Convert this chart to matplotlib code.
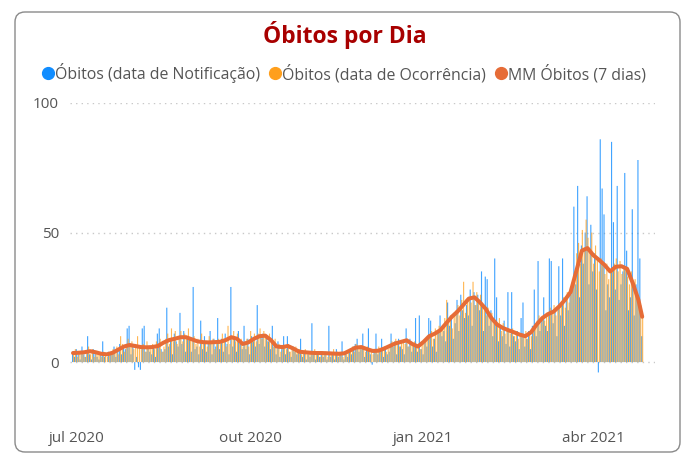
import matplotlib
matplotlib.use('Agg')
import matplotlib.pyplot as plt
import matplotlib.dates as mdates
from matplotlib.patches import FancyBboxPatch
from matplotlib.lines import Line2D
import pandas as pd

plt.rcParams['font.family'] = ['Open Sans', 'DejaVu Sans']

title = 'Óbitos por Dia'
series_labels = ['Óbitos (data de Notificação)', 'Óbitos (data de Ocorrência)', 'MM Óbitos (7 dias)']
start_date = '2020-06-29'

# daily deaths by notification date (blue)
notif = [
    4, 2, 5, 3, 1, 6, 3,
    2, 10, 3, 1, 5, 4, 2,
    1, 3, 8, 2, 0, 4, 3,
    3, 6, 2, 5, 7, 3, 6,
    5, 13, 14, 3, 7, -3, 2,
    -2, -3, 13, 14, 4, 6, 4,
    3, 6, 2, 11, 13, 5, 4,
    5, 21, 6, 9, 3, 11, 8,
    6, 19, 7, 12, 4, 10, 9,
    4, 29, 5, 6, 3, 16, 5,
    10, 4, 8, 12, 3, 9, 6,
    17, 5, 9, 4, 11, 7, 3,
    29, 6, 10, 4, 12, 7, 5,
    14, 5, 9, 3, 10, 8, 6,
    22, 7, 10, 11, 6, 9, 8,
    5, 14, 6, 3, 8, 2, 5,
    10, 3, 10, 4, 2, 6, 4,
    3, 5, 9, 2, 4, 1, 3,
    2, 15, 3, 1, 4, 2, 3,
    2, 4, 1, 14, 2, 3, 1,
    5, 2, 3, 8, 1, 3, 2,
    4, 3, 6, 7, 9, 4, 5,
    11, 2, 5, 13, 3, -1, 4,
    11, 3, 4, 9, 2, 5, 3,
    4, 11, 6, 8, 3, 9, 6,
    5, 3, 13, 6, 9, 4, 7,
    17, 4, 18, 5, 3, 8, 6,
    17, 16, 6, 9, 4, 12, 18,
    10, 12, 8, 23, 14, 18, 9,
    15, 24, 12, 26, 20, 17, 22,
    18, 28, 14, 27, 22, 26, 20,
    35, 12, 33, 32, 14, 20, 10,
    40, 25, 8, 14, 10, 16, 7,
    27, 6, 27, 10, 8, 12, 5,
    17, 23, 6, 9, 12, 5, 14,
    28, 10, 39, 12, 16, 25, 14,
    12, 40, 39, 15, 20, 10, 37,
    18, 40, 14, 25, 20, 27, 30,
    60, 30, 68, 25, 45, 38, 50,
    64, 30, 53, 35, 42, 28, -4,
    86, 67, 57, 20, 30, 25, 85,
    54, 28, 68, 24, 30, 35, 73,
    43, 20, 25, 59, 18, 30, 78,
    40, 10,
]

# daily deaths by occurrence date (orange)
ocorr = [
    3, 5, 2, 4, 3, 4, 2,
    4, 6, 3, 5, 2, 4, 3,
    3, 2, 4, 3, 2, 3, 4,
    5, 4, 6, 3, 10, 7, 4,
    7, 9, 6, 8, 5, 7, 10,
    6, 5, 7, 4, 8, 6, 5,
    7, 5, 8, 6, 9, 4, 6,
    9, 11, 7, 13, 8, 12, 7,
    10, 12, 8, 11, 9, 13, 9,
    8, 10, 7, 9, 6, 11, 8,
    8, 6, 10, 7, 9, 5, 8,
    9, 7, 11, 8, 6, 14, 7,
    10, 12, 8, 11, 7, 9, 6,
    7, 9, 6, 12, 8, 11, 8,
    11, 13, 9, 12, 10, 8, 11,
    8, 6, 9, 5, 7, 4, 6,
    6, 5, 7, 4, 6, 5, 6,
    4, 5, 3, 4, 5, 3, 4,
    4, 3, 5, 3, 4, 2, 4,
    3, 4, 2, 4, 3, 5, 3,
    4, 3, 3, 2, 4, 3, 4,
    5, 6, 4, 7, 5, 6, 5,
    5, 4, 6, 4, 5, 3, 5,
    5, 6, 4, 5, 6, 4, 5,
    7, 8, 6, 9, 7, 6, 8,
    8, 7, 9, 6, 8, 7, 8,
    6, 7, 5, 8, 7, 9, 10,
    10, 12, 9, 13, 11, 14, 12,
    14, 17, 24, 15, 18, 13, 19,
    20, 22, 18, 24, 31, 19, 23,
    25, 23, 31, 22, 27, 24, 26,
    22, 20, 18, 21, 17, 19, 15,
    16, 14, 17, 12, 15, 11, 13,
    12, 11, 13, 10, 12, 9, 11,
    11, 10, 12, 9, 11, 10, 12,
    14, 16, 18, 15, 17, 16, 19,
    18, 21, 19, 22, 18, 20, 21,
    22, 25, 21, 27, 23, 26, 28,
    34, 42, 46, 38, 51, 44, 55,
    48, 43, 50, 38, 45, 40, 35,
    40, 37, 34, 38, 32, 36, 35,
    38, 40, 35, 39, 34, 37, 36,
    33, 30, 35, 28, 32, 27, 25,
    22, 18,
]

# 7-day moving average, read every 3 days, plus the final day
ma_vals = [
    3.5, 3.6, 3.8, 4.2, 3.8, 3.2, 3.0, 3.6, 4.8, 6.0,
    6.6, 6.2, 5.8, 5.7, 5.8, 6.2, 7.5, 8.5, 9.0, 9.6,
    9.6, 8.8, 8.0, 7.7, 7.6, 7.7, 7.8, 8.5, 9.6, 9.0,
    7.0, 7.6, 9.0, 10.0, 10.2, 8.5, 6.0, 5.8, 6.2, 5.2,
    4.0, 3.8, 3.6, 3.5, 3.5, 3.4, 3.3, 3.2, 3.4, 4.5,
    5.6, 5.8, 5.0, 4.3, 4.4, 5.2, 6.2, 7.2, 7.8, 8.4,
    7.0, 6.0, 7.8, 10.0, 11.0, 12.4, 15.0, 17.5, 19.5, 22.0,
    24.5, 25.0, 23.0, 20.5, 17.0, 14.5, 13.2, 12.3, 11.5, 10.6,
    10.0, 11.5, 14.5, 17.0, 18.5, 19.5, 21.5, 24.0, 27.0, 35.0,
    43.0, 44.0, 41.3, 39.5, 37.5, 35.0, 36.8, 37.0, 36.0, 30.5,
    24.0, 17.5,
]
ma_dates = list(pd.date_range(start_date, '2021-04-25', freq='3D')) + [pd.Timestamp('2021-04-27')]

n = min(len(notif), len(ocorr))
dates = pd.date_range(start_date, periods=n, freq='D')

c_blue = '#118DFF'
c_orange = '#FF9F1C'
c_line = '#E66C37'

fig = plt.figure(figsize=(6.84, 4.54), dpi=100)
fig.patch.set_facecolor('white')

card = FancyBboxPatch((15, 2), 665, 440, boxstyle='round,pad=0,rounding_size=10',
                      transform=None, facecolor='none', edgecolor='#8a8a8a', linewidth=1.0,
                      zorder=-5)
fig.patches.append(card)

ax = fig.add_axes([70/684, 1-388/454, (655-70)/684, (388-103)/454])
ax.set_facecolor('none')

off = pd.Timedelta(hours=6)
ax.bar(dates[:n] - off, notif[:n], width=0.6, color=c_blue, alpha=0.8, linewidth=0,
       zorder=2, snap=False)
ax.bar(dates[:n] + off, ocorr[:n], width=0.6, color=c_orange, alpha=0.75, linewidth=0,
       zorder=3, snap=False)
ax.plot(ma_dates, ma_vals[:len(ma_dates)], color=c_line, lw=2.9, solid_capstyle='round',
        solid_joinstyle='round', zorder=4)

x0 = pd.Timestamp(start_date)
ax.set_xlim(x0 - pd.Timedelta(days=1.6), x0 + pd.Timedelta(days=308.8))
ax.set_ylim(-10, 100)
ax.set_yticks([0, 50, 100])
ax.yaxis.grid(True, color='#c8c8c8', linestyle=(0, (1, 3)), linewidth=1.0)
ax.set_axisbelow(True)
for s in ax.spines.values():
    s.set_visible(False)

ax.xaxis.set_major_locator(mdates.MonthLocator(bymonth=[1, 4, 7, 10]))
months = {1: 'jan', 4: 'abr', 7: 'jul', 10: 'out'}
ax.xaxis.set_major_formatter(matplotlib.ticker.FuncFormatter(
    lambda v, p: f"{months[mdates.num2date(v).month]} {mdates.num2date(v).year}"))
ax.tick_params(axis='x', length=0, pad=31, labelsize=11, labelcolor='#555555')
ax.tick_params(axis='y', length=0, pad=8, labelsize=11, labelcolor='#555555')

fig.text(0.504, 1-35/454, title, ha='center', va='center', fontsize=16.5,
         fontweight='bold', color='#A80000')

handles = [Line2D([], [], marker='o', linestyle='none', markersize=8.5, color=c) for c in (c_blue, c_orange, c_line)]
fig.legend(handles, series_labels, loc='center', bbox_to_anchor=(0.503, 1-73/454), ncol=3,
           frameon=False, handletextpad=0.05, columnspacing=0.55, handlelength=0.8,
           fontsize=11.4, labelcolor='#555555', borderaxespad=0)

fig.savefig('out.png', dpi=100, facecolor='white')
